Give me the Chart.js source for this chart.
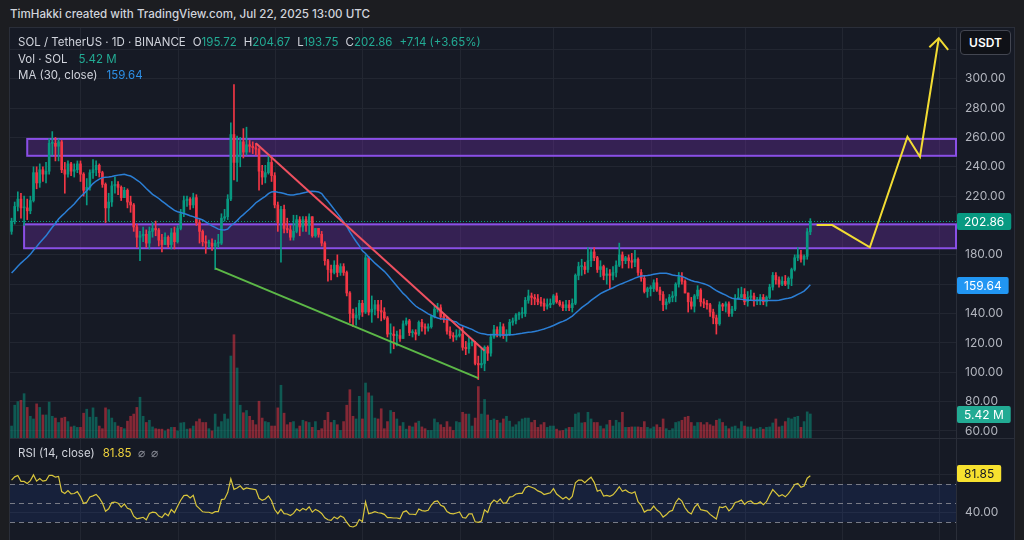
<!DOCTYPE html>
<html>
<head>
<meta charset="utf-8">
<script src="https://cdn.jsdelivr.net/npm/chart.js@4.4.1/dist/chart.umd.min.js"></script>
<style>
  body { margin: 0; width: 1024px; height: 540px; background: #1c1d21; overflow: hidden; position: relative; font-family: Inter, "Noto Sans", sans-serif; }
  .pane { position: absolute; left: 9px; top: 27px; width: 1006px; height: 513px; background: #161a25; border: 1px solid #2a2e39; border-bottom: none; box-sizing: border-box; }
  canvas { position: absolute; left: 10px; }
  #mainChart { top: 28px; }
  #rsiChart { top: 439px; }
  #sep { position: absolute; left: 10px; top: 438px; width: 1004px; height: 1px; background: #2a2e39; }
  #credit { position: absolute; left: 10px; top: 7px; color: #d1d4dc; font-size: 11.6px; font-weight: 500; white-space: nowrap; }
  .legend { position: absolute; left: 18px; color: #d1d4dc; font-size: 11.5px; line-height: 16.5px; white-space: nowrap; }
  .legend .g { margin-left: 7px; }
  .up { color: #22ab94; }
  .ma { color: #2d8fe6; }
  .ry { color: #f0d33c; }
  .dim { color: #868993; margin-left: 6px; }
  #usdt { position: absolute; left: 960px; top: 30px; width: 51px; height: 25px; box-sizing: border-box; border: 1px solid #434651; border-radius: 4px; background: #0f1117; color: #fff; font-size: 12px; font-weight: 600; text-align: center; line-height: 23px; }
</style>
</head>
<body>
<div class="pane"></div>
<div id="credit">TimHakki created with TradingView.com, Jul 22, 2025 13:00 UTC</div>
<canvas id="mainChart" width="1004" height="410"></canvas>
<div id="sep"></div>
<canvas id="rsiChart" width="1004" height="101"></canvas>
<div class="legend" style="top:34px">
  <div>SOL / TetherUS · 1D · BINANCE<span class="g">O<span class="up">195.72</span></span><span class="g">H<span class="up">204.67</span></span><span class="g">L<span class="up">193.75</span></span><span class="g">C<span class="up">202.86</span></span><span class="g up">+7.14 (+3.65%)</span></div>
  <div>Vol · SOL<span class="g up" style="margin-left:11px">5.42 M</span></div>
  <div>MA (30, close)<span class="g ma" style="margin-left:9px">159.64</span></div>
</div>
<div class="legend" style="top:445px">RSI (14, close)<span class="g ry" style="margin-left:8px">81.85</span><span class="dim">⌀</span><span class="dim">⌀</span></div>
<div id="usdt">USDT</div>
<script>
// closes before the visible range (Sep 20 - Nov 8 2024), only for MA / RSI warm-up
const priorCloses = [146,148,146,146,153,150,155,157,157,158,152,
  147,142,138,144,143,145,146,144,139,
  139,146,147,146,155,153,153,151,156,158,
  165,166,167,170,176,168,172,176,177,179,
  176,166,165,164,162,160,168,189,198,196];

// SOL/USDT daily, Nov 9 2024 - Jul 22 2025
const closes = [
  203,213,218,212,212,210,217,236,229,238,235,237,256,256,254,257,238,235,242,237,238,242, // nov
  235,224,226,236,238,241,236,228,212,216,227,228,226,219,224,216,214,199,192,193,194,188,196,198,197,190,187,192,187,195,189, // dec
  198,208,217,218,214,219,202,196,189,188,188,186,188,188,205,206,218,262,243,248,257,250,255,254,253,252,237,233,236,243,234, // jan
  214,202,211,198,197,192,196,204,199,204,200,206,193,198,194,188,176,170,168,173,168,172,168,154,140,137,139,147, // feb
  141,178,141,143,146,142,141,137,126,126,125,125,123,133,135,127,127,126,134,131,130,131,138,143,144,138,136,128,125,124,125, // mar
  126,117,116,120,120,106,105,106,117,113,124,129,126,131,125,126,134,135,139,140,140,149,152,151,150,148,147,145,146,147, // apr
  152,148,146,144,146,144,147,166,172,172,170,176,182,178,170,172,166,167,166,168,173,180,176,178,176,175,177,168,164,155,157, // may
  157,161,156,153,146,148,151,152,160,165,162,154,148,145,152,156,148,147,146,141,137,133,146,145,146.6,140,143,150,151,153, // jun
  148,151,152,149,149,151,148,151,158,166,163,160,162,160,164,170,178,180,177,179,195.72,202.86 // jul
];
const highs = [
  205,216,223,222,220,218,220,240,240,242,240,243,259,264,260,259,258,243,244,243,242,244,
  244,236,232,238,245,244,242,237,229,222,230,233,230,227,226,225,220,215,201,196,199,197,199,202,203,198,194,195,193,198,199,
  200,211,220,220,219,222,221,204,197,193,190,191,190,194,208,211,221,270,296,261,260,266,267,258,257,256,253,241,241,248,246,
  236,216,213,214,205,200,207,207,206,206,206,208,206,198,198,196,189,177,173,176,180,174,174,169,155,143,144,149,
  149,180,179,152,149,149,149,144,138,133,131,128,129,135,137,136,129,129,135,136,133,133,139,145,147,146,140,138,131,127,129,
  129,131,121,124,122,121,111,116,118,118,126,132,131,134,133,129,136,137,140,141,144,151,156,154,153,153,151,150,150,150,
  153,154,149,148,149,149,150,167,175,177,175,185,184,185,179,176,173,171,170,172,176,188,182,179,180,181,183,178,170,166,158,
  159,163,164,158,155,150,153,155,161,168,168,163,154,151,153,159,157,150,149,147,143,139,148,147,148,148,145,153,157,158,
  157,155,156,154,151,153,153,152,160,168,168,165,165,166,165,171,180,185,183,180,198,204.67
];
const lows = [
  194,201,210,205,200,204,208,216,225,226,230,229,235,248,244,244,236,222,233,234,233,236,
  230,220,214,224,232,234,233,226,202,203,213,222,221,217,219,212,209,196,185,176,189,185,184,192,193,186,182,187,185,184,184,
  188,197,206,213,211,212,200,188,186,181,185,183,170,185,187,203,204,217,231,230,240,246,248,250,249,248,224,228,229,235,230,
  212,196,175,195,195,190,190,195,193,196,196,194,192,192,192,186,173,162,163,167,165,166,166,152,134,131,132,136,
  138,140,139,134,139,137,135,136,124,113,116,118,121,123,132,125,124,122,125,128,126,128,130,137,141,136,134,126,123,121,122,
  124,115,112,113,118,105,95,103,101,108,111,123,124,124,123,121,125,132,133,136,137,138,147,146,146,146,145,142,143,144,
  146,147,145,142,142,142,141,146,163,166,167,168,172,176,168,165,163,160,157,163,165,172,171,174,171,171,172,166,162,154,151,
  152,155,155,149,142,143,147,148,148,158,160,154,141,143,141,150,145,144,143,138,133,126,132,142,141,138,138,142,150,151,
  146,145,149,145,146,146,146,145,150,156,160,158,159,159,157,159,169,176,175,173,177,193.75
];
// volume in millions of SOL
const volumes = [
  2.7,7.4,8.2,8.5,10.0,6.9,4.9,4.3,7.7,6.9,5.2,5.2,8.1,4.9,4.5,3.5,4.5,4.7,3.7,2.5,2.7,2.4,
  2.4,5.6,6.5,4.7,6.8,4.7,2.7,2.1,6.8,6.4,4.5,3.5,2.7,2.4,2.1,3.8,4.9,5.4,6.9,9.2,4.9,3.5,4.0,2.5,2.1,2.0,2.0,1.6,2.0,2.4,2.4,
  1.6,3.4,3.5,2.0,2.1,2.7,3.7,4.3,3.5,3.5,2.1,1.6,5.4,2.5,3.7,5.4,4.3,18.5,23.3,15.8,7.4,5.7,6.2,4.9,4.0,3.0,8.3,4.5,3.7,3.5,2.7,
  2.7,6.8,11.9,5.6,3.0,3.5,3.7,2.1,2.7,4.0,3.7,3.5,2.4,3.7,1.7,2.1,4.0,5.8,3.5,4.0,3.0,1.7,3.7,7.4,10.9,4.9,4.3,9.4,
  4.3,12.4,10.2,9.5,4.5,4.3,6.6,2.1,3.7,6.2,5.8,4.3,2.7,3.5,2.0,2.7,2.5,3.4,3.8,2.5,2.1,1.7,1.7,4.3,3.5,3.0,2.4,3.7,2.5,1.7,3.7,
  3.5,5.8,5.4,5.4,2.7,4.5,11.6,5.4,8.7,5.2,4.0,4.3,4.0,3.4,4.3,4.9,3.8,2.5,3.0,3.7,4.3,4.5,4.5,3.5,4.0,2.4,3.0,3.5,2.4,2.7,
  2.7,2.0,1.6,1.7,2.1,2.4,2.4,5.4,5.7,3.4,3.5,5.8,4.3,3.5,3.5,2.7,2.1,3.0,4.0,2.7,4.0,3.5,5.8,2.4,2.4,2.5,2.5,2.5,2.4,3.7,2.4,
  2.1,2.5,3.0,2.4,4.3,2.1,1.7,2.1,3.5,3.7,4.0,4.7,4.9,3.5,2.7,3.5,3.5,3.0,3.5,3.0,2.7,4.0,4.3,3.5,2.7,2.1,2.5,2.7,2.1,3.7,
  2.7,2.5,2.5,2.0,2.1,2.4,2.0,2.4,2.5,3.4,4.3,2.5,2.7,3.7,4.5,4.3,4.7,4.9,2.4,3.7,5.9,5.42
];
const priceTicks = [60, 80, 100, 120, 140, 160, 180, 200, 220, 240, 260, 280, 300, 320];
const rsiTicks = [40, 80];
const rsiLast = 81.85;

// drawings (date, price)
const zones = [
  { from: '2024-11-14', top: 259, bottom: 247.5 },
  { from: '2024-11-13', top: 200.8, bottom: 184.5 }
];
const redLine = [['2025-01-26', 256], ['2025-04-09', 114.6]];
const greenLine = [['2025-01-13', 170.8], ['2025-04-07', 96]];
const yellowPath = [['2025-07-24', 200.3], ['2025-07-29', 200.3], ['2025-08-10', 185.1], ['2025-08-22', 260.5], ['2025-08-26', 246.9], ['2025-09-01', 327.6]];
const arrowHead = [['2025-08-29', 321.4], ['2025-09-01', 327.6], ['2025-09-04', 319.6]];

const upColor = '#089981', downColor = '#f23645';
const gridColor = '#222631';
const maLength = 30, rsiLength = 14;

let labels = [];
for (let i = 0; i < 302; i++) {
  labels.push(new Date(Date.UTC(2024, 10, 9 + i)).toISOString().slice(0, 10));
}
const monthStarts = labels.filter(l => l.endsWith('-01'));

const opens = closes.map((c, i) => i === 0 ? priorCloses[priorCloses.length - 1] : closes[i - 1]);
const isUp = closes.map((c, i) => c >= opens[i]);

const allCloses = priorCloses.concat(closes);
const off = priorCloses.length;
const maValues = closes.map((c, i) => {
  let s = 0;
  for (let k = 0; k < maLength; k++) s += allCloses[off + i - k];
  return s / maLength;
});

function calcRsi(src, n) {
  let out = new Array(src.length).fill(null);
  let g = 0, l = 0;
  for (let i = 1; i <= n; i++) {
    let d = src[i] - src[i - 1];
    if (d > 0) g += d; else l -= d;
  }
  g /= n; l /= n;
  out[n] = 100 - 100 / (1 + g / l);
  for (let i = n + 1; i < src.length; i++) {
    let d = src[i] - src[i - 1];
    g = (g * (n - 1) + Math.max(d, 0)) / n;
    l = (l * (n - 1) + Math.max(-d, 0)) / n;
    out[i] = l === 0 ? 100 : 100 - 100 / (1 + g / l);
  }
  return out;
}
const rsiValues = calcRsi(allCloses, rsiLength).slice(off);

const toPoints = arr => arr.map(p => ({ x: p[0], y: p[1] }));

Chart.defaults.font.family = 'Inter, "Noto Sans", sans-serif';
Chart.defaults.font.size = 12;

function drawMonthLines(chart) {
  const { ctx, chartArea: a, scales: { x } } = chart;
  ctx.save();
  ctx.strokeStyle = gridColor;
  ctx.lineWidth = 1;
  monthStarts.forEach(m => {
    const px = Math.round(x.getPixelForValue(m)) + 0.5;
    ctx.beginPath(); ctx.moveTo(px, a.top); ctx.lineTo(px, a.bottom); ctx.stroke();
  });
  ctx.restore();
}

function drawTag(chart, scale, value, text, bg, fg) {
  const { ctx, chartArea: a } = chart;
  const y = Math.round(scale.getPixelForValue(value));
  ctx.save();
  ctx.font = '12px Inter, "Noto Sans", sans-serif';
  const w = ctx.measureText(text).width + 14;
  ctx.fillStyle = bg;
  ctx.beginPath();
  ctx.roundRect(a.right + 1, y - 8, w, 17, 2);
  ctx.fill();
  ctx.fillStyle = fg;
  ctx.textBaseline = 'middle';
  ctx.fillText(text, a.right + 8, y + 1);
  ctx.restore();
}

const mainDecor = {
  id: 'mainDecor',
  beforeDatasetsDraw(chart) {
    const { ctx, chartArea: a, scales: { x, y } } = chart;
    drawMonthLines(chart);
    ctx.save();
    // zones
    zones.forEach(z => {
      const x0 = x.getPixelForValue(z.from);
      const y0 = y.getPixelForValue(z.top), y1 = y.getPixelForValue(z.bottom);
      ctx.fillStyle = 'rgba(120, 50, 180, 0.32)';
      ctx.fillRect(x0, y0, a.right - x0, y1 - y0);
      ctx.strokeStyle = '#8a4fe6';
      ctx.lineWidth = 2;
      ctx.strokeRect(x0, y0, a.right - x0, y1 - y0);
    });
    // last price dotted line
    const py = Math.round(y.getPixelForValue(closes[closes.length - 1])) + 0.5;
    ctx.strokeStyle = upColor;
    ctx.setLineDash([1, 2]);
    ctx.lineWidth = 1;
    ctx.beginPath(); ctx.moveTo(a.left, py); ctx.lineTo(a.right, py); ctx.stroke();
    ctx.restore();
  },
  afterDraw(chart) {
    const s = chart.scales;
    drawTag(chart, s.y, closes[closes.length - 1], closes[closes.length - 1].toFixed(2), upColor, '#ffffff');
    drawTag(chart, s.y, maValues[maValues.length - 1], maValues[maValues.length - 1].toFixed(2), '#2196f3', '#ffffff');
    drawTag(chart, s.yVol, volumes[volumes.length - 1], volumes[volumes.length - 1].toFixed(2) + ' M', '#22ab94', '#ffffff');
  }
};

const rsiDecor = {
  id: 'rsiDecor',
  beforeDatasetsDraw(chart) {
    const { ctx, chartArea: a, scales: { y } } = chart;
    drawMonthLines(chart);
    ctx.save();
    const y70 = y.getPixelForValue(70), y30 = y.getPixelForValue(30);
    ctx.fillStyle = 'rgba(41, 98, 255, 0.10)';
    ctx.fillRect(a.left, y70, a.right - a.left, y30 - y70);
    ctx.strokeStyle = '#787b86';
    ctx.setLineDash([5, 4]);
    ctx.lineWidth = 1;
    [70, 50, 30].forEach(v => {
      const py = Math.round(y.getPixelForValue(v)) + 0.5;
      ctx.beginPath(); ctx.moveTo(a.left, py); ctx.lineTo(a.right, py); ctx.stroke();
    });
    ctx.restore();
  },
  afterDraw(chart) {
    drawTag(chart, chart.scales.y, rsiLast, rsiLast.toFixed(2), '#f7e12f', '#131722');
  }
};

function rightAxis(min, max, ticks) {
  return {
    position: 'right', min: min, max: max,
    afterBuildTicks: s => { s.ticks = ticks.map(v => ({ value: v })); },
    afterFit: s => { s.width = 58; s.paddingTop = 0; s.paddingBottom = 0; },
    grid: { color: gridColor, drawTicks: false },
    border: { color: '#2a2e39' },
    ticks: { color: '#b2b5be', padding: 9, callback: v => v.toFixed(2) }
  };
}

let mainChart = new Chart(document.getElementById('mainChart'), {
  data: {
    labels: labels,
    datasets: [
      {
        type: 'line', data: maValues, borderColor: '#2b7fd6', borderWidth: 1.5,
        pointRadius: 0, order: 1
      },
      {
        type: 'line', data: toPoints(redLine), borderColor: '#ef5060', borderWidth: 2,
        pointRadius: 0, order: 0
      },
      {
        type: 'line', data: toPoints(greenLine), borderColor: '#5cb847', borderWidth: 2,
        pointRadius: 0, order: 0
      },
      {
        type: 'line', data: toPoints(yellowPath), borderColor: '#f2dc33', borderWidth: 2,
        pointRadius: 0, order: 0
      },
      {
        type: 'line', data: toPoints(arrowHead), borderColor: '#f2dc33', borderWidth: 2,
        pointRadius: 0, order: 0
      },
      {
        type: 'bar', data: closes.map((c, i) => [opens[i], c]),
        backgroundColor: isUp.map(u => u ? upColor : downColor),
        barThickness: 2, minBarLength: 1, grouped: false, order: 2
      },
      {
        type: 'bar', data: closes.map((c, i) => [lows[i], highs[i]]),
        backgroundColor: isUp.map(u => u ? upColor : downColor),
        barThickness: 1, grouped: false, order: 3
      },
      {
        type: 'bar', yAxisID: 'yVol', data: volumes,
        backgroundColor: isUp.map(u => u ? 'rgba(8,153,129,0.5)' : 'rgba(242,54,69,0.5)'),
        barThickness: 2, grouped: false, order: 5
      }
    ]
  },
  options: {
    responsive: false,
    animation: false,
    layout: { padding: 0 },
    plugins: { legend: { display: false }, tooltip: { enabled: false } },
    scales: {
      x: { type: 'category', display: false, offset: true },
      y: rightAxis(55.2, 334.58, priceTicks),
      yVol: { display: false, min: 0, max: 92.5 }
    }
  },
  plugins: [mainDecor]
});

let rsiChart = new Chart(document.getElementById('rsiChart'), {
  type: 'line',
  data: {
    labels: labels,
    datasets: [{
      data: rsiValues, borderColor: '#d9c63c', borderWidth: 1.2, pointRadius: 0
    }]
  },
  options: {
    responsive: false,
    animation: false,
    layout: { padding: 0 },
    plugins: { legend: { display: false }, tooltip: { enabled: false } },
    scales: {
      x: { type: 'category', display: false, offset: true },
      y: rightAxis(11.05, 117.4, rsiTicks)
    }
  },
  plugins: [rsiDecor]
});
</script>
</body>
</html>
